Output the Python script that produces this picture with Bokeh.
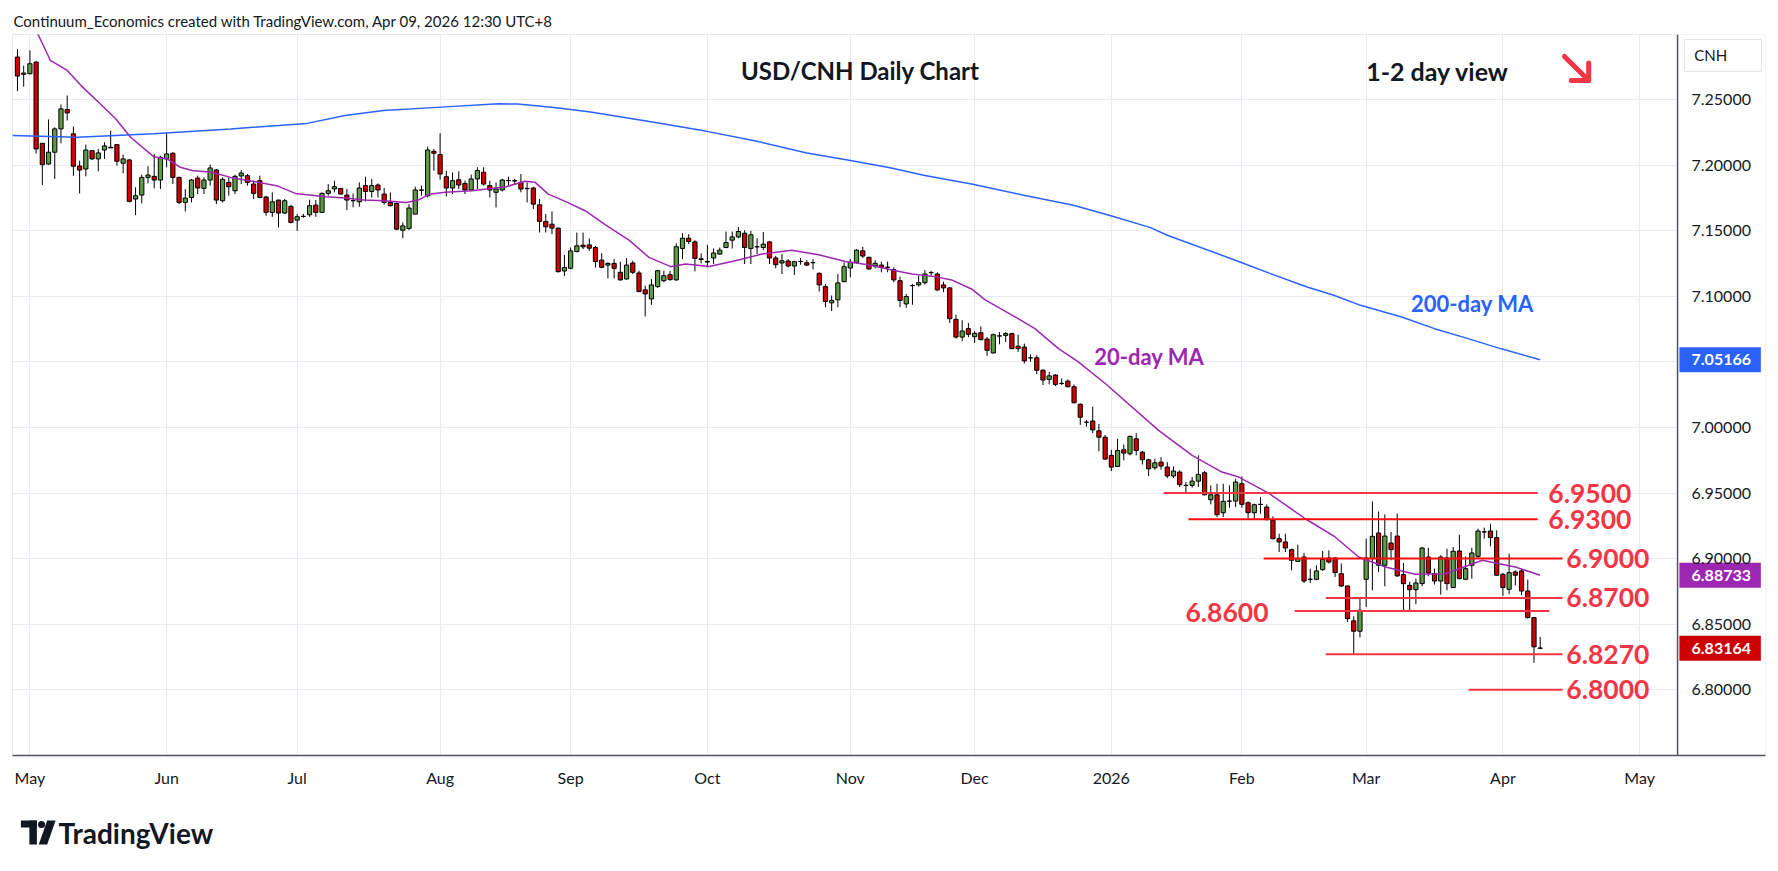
import pandas as pd
from bokeh.plotting import figure
from bokeh.models import Range1d, FixedTicker, NumeralTickFormatter, Span
from bokeh.layouts import column
from bokeh.embed import file_html
from bokeh.resources import INLINE
from bokeh.core.properties import value

FONT = "Lato"

# ---------------- data ----------------
opens = [
    7.2826, 7.2694, 7.2699, 7.2788, 7.2168, 7.2010, 7.2100, 7.2278, 7.2426, 7.2240,
    7.1995, 7.1972, 7.2112, 7.2049, 7.2117, 7.2138, 7.2158, 7.2016, 7.2041, 7.1743,
    7.1773, 7.1908, 7.1916, 7.1888, 7.2049, 7.2092, 7.1908, 7.1717, 7.1755, 7.1903,
    7.1824, 7.1888, 7.1965, 7.1730, 7.1870, 7.1806, 7.1919, 7.1921, 7.1857, 7.1883,
    7.1758, 7.1641, 7.1735, 7.1636, 7.1687, 7.1582, 7.1610, 7.1623, 7.1697, 7.1641,
    7.1786, 7.1820, 7.1824, 7.1773, 7.1730, 7.1722, 7.1845, 7.1801, 7.1850, 7.1781,
    7.1717, 7.1709, 7.1505, 7.1518, 7.1628, 7.1812, 7.1768, 7.2107, 7.2082, 7.1913,
    7.1827, 7.1890, 7.1862, 7.1812, 7.1896, 7.1947, 7.1845, 7.1794, 7.1812, 7.1883,
    7.1883, 7.1870, 7.1824, 7.1827, 7.1699, 7.1572, 7.1551, 7.1521, 7.1194, 7.1215,
    7.1342, 7.1391, 7.1393, 7.1373,
    7.1277, 7.1239, 7.1252, 7.1184, 7.1133, 7.1255, 7.1179, 7.1050, 7.0981, 7.1075,
    7.1120, 7.1166, 7.1126, 7.1366, 7.1444, 7.1416, 7.1287, 7.1267, 7.1293, 7.1323,
    7.1373, 7.1429, 7.1454, 7.1482, 7.1366, 7.1379, 7.1373, 7.1416, 7.1293, 7.1255,
    7.1270, 7.1232, 7.1267, 7.1257, 7.1258, 7.1176, 7.1075, 7.0951, 7.0974, 7.1113,
    7.1217, 7.1260, 7.1348, 7.1298, 7.1232, 7.1239, 7.1223, 7.1204, 7.1120, 7.0943,
    7.1083, 7.1088, 7.1105, 7.1182, 7.1171, 7.1088, 7.1065, 7.0825, 7.0690, 7.0754,
    7.0693, 7.0723, 7.0675, 7.0569, 7.0699, 7.0703, 7.0716, 7.0620, 7.0614, 7.0532,
    7.0532, 7.0437, 7.0367, 7.0400, 7.0337, 7.0354, 7.0311, 7.0177, 7.0041, 7.0050,
    6.9975, 6.9926,
    6.9787, 6.9703, 6.9830, 6.9800, 6.9914, 6.9812, 6.9754, 6.9693, 6.9736, 6.9698,
    6.9630, 6.9660, 6.9559, 6.9558, 6.9591, 6.9655, 6.9449, 6.9487, 6.9350, 6.9439,
    6.9439, 6.9571, 6.9426, 6.9350, 6.9414, 6.9393, 6.9292, 6.9152, 6.9127, 6.9068,
    6.8979, 6.9012, 6.8843, 6.8842, 6.8916, 6.9005, 6.9005, 6.8885, 6.8791, 6.8525,
    6.8446, 6.8842, 6.9000, 6.9195, 6.8949, 6.9119, 6.9172, 6.8878, 6.8796, 6.8763,
    6.8809, 6.9012, 6.8885, 6.8829, 6.9005, 6.8779, 6.9058, 6.8842, 6.8949, 6.9017,
    6.9204, 6.9210, 6.9160, 6.8880, 6.8766, 6.8898, 6.8906, 6.8753, 6.8550, 6.8318,
]
highs = [
    7.2887, 7.2760, 7.2877, 7.2793, 7.2170, 7.2350, 7.2290, 7.2464, 7.2533, 7.2296,
    7.2036, 7.2158, 7.2117, 7.2125, 7.2176, 7.2265, 7.2163, 7.2082, 7.2049, 7.1832,
    7.1929, 7.1993, 7.2087, 7.2074, 7.2245, 7.2100, 7.1913, 7.1819, 7.1896, 7.1921,
    7.1908, 7.2006, 7.1972, 7.1908, 7.1908, 7.1929, 7.1964, 7.1934, 7.1883, 7.1921,
    7.1768, 7.1793, 7.1738, 7.1743, 7.1699, 7.1628, 7.1630, 7.1738, 7.1735, 7.1794,
    7.1857, 7.1883, 7.1827, 7.1819, 7.1786, 7.1870, 7.1913, 7.1896, 7.1862, 7.1827,
    7.1793, 7.1715, 7.1564, 7.1704, 7.1837, 7.1845, 7.2143, 7.2125, 7.2245, 7.1959,
    7.1946, 7.1954, 7.1883, 7.1929, 7.1985, 7.1985, 7.1883, 7.1870, 7.1896, 7.1913,
    7.1896, 7.1934, 7.1870, 7.1837, 7.1743, 7.1628, 7.1648, 7.1526, 7.1317, 7.1373,
    7.1487, 7.1487, 7.1442, 7.1386,
    7.1330, 7.1260, 7.1285, 7.1265, 7.1293, 7.1272, 7.1196, 7.1083, 7.1133, 7.1204,
    7.1196, 7.1196, 7.1404, 7.1482, 7.1475, 7.1429, 7.1328, 7.1394, 7.1366, 7.1373,
    7.1495, 7.1495, 7.1530, 7.1505, 7.1500, 7.1444, 7.1492, 7.1424, 7.1310, 7.1323,
    7.1285, 7.1272, 7.1293, 7.1277, 7.1285, 7.1184, 7.1095, 7.1007, 7.1171, 7.1260,
    7.1285, 7.1361, 7.1379, 7.1303, 7.1277, 7.1265, 7.1265, 7.1222, 7.1151, 7.1019,
    7.1095, 7.1158, 7.1201, 7.1196, 7.1184, 7.1113, 7.1070, 7.0860, 7.0817, 7.0797,
    7.0736, 7.0771, 7.0690, 7.0716, 7.0728, 7.0728, 7.0723, 7.0708, 7.0640, 7.0559,
    7.0551, 7.0445, 7.0425, 7.0407, 7.0374, 7.0367, 7.0329, 7.0184, 7.0058, 7.0159,
    7.0028, 6.9944,
    6.9830, 6.9914, 6.9871, 6.9940, 6.9957, 6.9820, 6.9762, 6.9762, 6.9774, 6.9736,
    6.9703, 6.9673, 6.9584, 6.9622, 6.9787, 6.9668, 6.9558, 6.9571, 6.9571, 6.9558,
    6.9609, 6.9627, 6.9437, 6.9419, 6.9470, 6.9414, 6.9322, 6.9190, 6.9190, 6.9076,
    6.9106, 6.9043, 6.8923, 6.8949, 6.9058, 6.9063, 6.9012, 6.8962, 6.8796, 6.8560,
    6.8695, 6.9152, 6.9436, 6.9360, 6.9337, 6.9203, 6.9343, 6.8967, 6.8822, 6.8847,
    6.9089, 6.9083, 6.8923, 6.9025, 6.9076, 6.9089, 6.9182, 6.9017, 6.9083, 6.9228,
    6.9236, 6.9266, 6.9216, 6.8890, 6.9038, 6.8911, 6.8923, 6.8840, 6.8555, 6.8403,
]
lows = [
    7.2566, 7.2600, 7.2694, 7.2090, 7.1850, 7.2005, 7.1896, 7.2168, 7.2342, 7.1920,
    7.1786, 7.1916, 7.2041, 7.1954, 7.2049, 7.2132, 7.1998, 7.1939, 7.1717, 7.1620,
    7.1710, 7.1862, 7.1824, 7.1819, 7.1985, 7.1857, 7.1704, 7.1648, 7.1717, 7.1781,
    7.1781, 7.1845, 7.1704, 7.1717, 7.1768, 7.1781, 7.1857, 7.1845, 7.1743, 7.1750,
    7.1615, 7.1607, 7.1526, 7.1628, 7.1557, 7.1500, 7.1600, 7.1607, 7.1607, 7.1636,
    7.1768, 7.1794, 7.1776, 7.1658, 7.1680, 7.1684, 7.1725, 7.1755, 7.1755, 7.1700,
    7.1687, 7.1505, 7.1444, 7.1505, 7.1628, 7.1768, 7.1755, 7.1959, 7.1891, 7.1763,
    7.1781, 7.1819, 7.1781, 7.1806, 7.1819, 7.1845, 7.1755, 7.1679, 7.1801, 7.1845,
    7.1857, 7.1794, 7.1717, 7.1666, 7.1488, 7.1488, 7.1475, 7.1182, 7.1156, 7.1207,
    7.1337, 7.1360, 7.1347, 7.1220,
    7.1214, 7.1138, 7.1138, 7.1120, 7.1128, 7.1171, 7.1032, 7.0847, 7.0936, 7.1065,
    7.1108, 7.1120, 7.1120, 7.1285, 7.1399, 7.1191, 7.1252, 7.1222, 7.1247, 7.1318,
    7.1368, 7.1366, 7.1444, 7.1247, 7.1247, 7.1323, 7.1353, 7.1247, 7.1214, 7.1171,
    7.1222, 7.1164, 7.1242, 7.1232, 7.1206, 7.1037, 7.0918, 7.0888, 7.0918, 7.1108,
    7.1146, 7.1255, 7.1293, 7.1204, 7.1214, 7.1184, 7.1184, 7.1108, 7.0918, 7.0913,
    7.0936, 7.1075, 7.1090, 7.1158, 7.1040, 7.1032, 7.0797, 7.0678, 7.0660, 7.0690,
    7.0645, 7.0665, 7.0546, 7.0564, 7.0635, 7.0652, 7.0597, 7.0577, 7.0488, 7.0501,
    7.0407, 7.0324, 7.0329, 7.0316, 7.0324, 7.0306, 7.0184, 7.0020, 7.0007, 6.9957,
    6.9818, 6.9754,
    6.9668, 6.9698, 6.9749, 6.9787, 6.9787, 6.9718, 6.9630, 6.9678, 6.9678, 6.9614,
    6.9614, 6.9546, 6.9500, 6.9541, 6.9546, 6.9482, 6.9414, 6.9317, 6.9317, 6.9388,
    6.9393, 6.9388, 6.9304, 6.9297, 6.9343, 6.9292, 6.9147, 6.9050, 6.9050, 6.8911,
    6.8974, 6.8814, 6.8814, 6.8835, 6.8906, 6.8962, 6.8860, 6.8784, 6.8517, 6.8276,
    6.8398, 6.8631, 6.8758, 6.8898, 6.8789, 6.8987, 6.8860, 6.8606, 6.8606, 6.8652,
    6.8789, 6.8865, 6.8802, 6.8725, 6.8758, 6.8776, 6.8842, 6.8840, 6.8847, 6.9005,
    6.9152, 6.9094, 6.8868, 6.8715, 6.8728, 6.8796, 6.8720, 6.8542, 6.8205, 6.8309,
]
closes = [
    7.2681, 7.2704, 7.2775, 7.2125, 7.2005, 7.2100, 7.2278, 7.2431, 7.2400, 7.1993,
    7.1964, 7.2117, 7.2049, 7.2095, 7.2148, 7.2133, 7.2031, 7.2049, 7.1725, 7.1768,
    7.1908, 7.1926, 7.1888, 7.2061, 7.2087, 7.1908, 7.1717, 7.1750, 7.1888, 7.1827,
    7.1888, 7.1980, 7.1735, 7.1893, 7.1837, 7.1916, 7.1941, 7.1870, 7.1786, 7.1755,
    7.1641, 7.1722, 7.1636, 7.1730, 7.1564, 7.1608, 7.1611, 7.1692, 7.1641, 7.1786,
    7.1806, 7.1837, 7.1781, 7.1735, 7.1731, 7.1827, 7.1801, 7.1845, 7.1812, 7.1717,
    7.1692, 7.1513, 7.1538, 7.1674, 7.1812, 7.1810, 7.2117, 7.2092, 7.1934, 7.1827,
    7.1883, 7.1850, 7.1812, 7.1896, 7.1960, 7.1857, 7.1812, 7.1820, 7.1888, 7.1884,
    7.1880, 7.1819, 7.1822, 7.1704, 7.1572, 7.1531, 7.1521, 7.1189, 7.1220, 7.1347,
    7.1386, 7.1378, 7.1368, 7.1266,
    7.1222, 7.1252, 7.1214, 7.1126, 7.1239, 7.1184, 7.1037, 7.1019, 7.1088, 7.1196,
    7.1158, 7.1128, 7.1379, 7.1444, 7.1419, 7.1290, 7.1282, 7.1262, 7.1331, 7.1353,
    7.1411, 7.1454, 7.1495, 7.1373, 7.1470, 7.1378, 7.1399, 7.1293, 7.1242, 7.1272,
    7.1232, 7.1265, 7.1266, 7.1239, 7.1257, 7.1088, 7.0961, 7.0969, 7.1103, 7.1227,
    7.1260, 7.1353, 7.1308, 7.1209, 7.1252, 7.1222, 7.1222, 7.1126, 7.0969, 7.0999,
    7.1082, 7.1105, 7.1171, 7.1181, 7.1050, 7.1065, 7.0830, 7.0690, 7.0736, 7.0711,
    7.0718, 7.0670, 7.0589, 7.0708, 7.0698, 7.0716, 7.0602, 7.0602, 7.0508, 7.0531,
    7.0437, 7.0362, 7.0394, 7.0329, 7.0336, 7.0311, 7.0189, 7.0078, 7.0040, 6.9982,
    6.9926, 6.9759,
    6.9698, 6.9825, 6.9805, 6.9932, 6.9825, 6.9754, 6.9685, 6.9731, 6.9706, 6.9630,
    6.9668, 6.9564, 6.9558, 6.9591, 6.9642, 6.9487, 6.9487, 6.9335, 6.9437, 6.9438,
    6.9584, 6.9414, 6.9350, 6.9411, 6.9413, 6.9297, 6.9152, 6.9127, 6.9081, 6.8987,
    6.9000, 6.8829, 6.8842, 6.8906, 6.8995, 6.8974, 6.8893, 6.8791, 6.8542, 6.8446,
    6.8606, 6.9005, 6.9170, 6.8949, 6.9172, 6.9068, 6.8868, 6.8809, 6.8763, 6.8814,
    6.9081, 6.8890, 6.8829, 6.9012, 6.8809, 6.9056, 6.8847, 6.8923, 6.9043, 6.9210,
    6.9203, 6.9160, 6.8873, 6.8779, 6.8893, 6.8873, 6.8753, 6.8550, 6.8327, 6.8316,
]

# moving averages, sampled along the drawn curves (bar index, value)
ma20_idx = [2.5, 3.4, 5.3, 8.0, 10.2, 13.3, 15.8, 18.2, 21.9, 24.1, 26.2, 28.1, 31.2, 34.3,
            37.3, 41.7, 44.7, 49.7, 52.7, 55.8, 58.9, 62.6, 64.5, 66.3, 68.8, 73.1, 76.2,
            78.6, 81.7, 83.3, 85.4, 88.5, 91.4, 94.6, 98.4, 101.6, 105.1, 107.5, 111.3,
            115.5, 119.8, 124.6, 128.9, 133.2, 136.9, 140.7, 143.9, 147.6, 150.3, 153.5,
            155.7, 161.0, 163.7, 167.5, 170.7, 175.3, 183.6, 189.0, 193.8, 196.5, 201.3,
            207.2, 212.0, 215.8, 220.1, 224.9, 229.8, 233.5, 235.7, 237.8, 241.0, 245.0]
ma20_val = [7.305, 7.299, 7.280, 7.2724, 7.261, 7.247, 7.2355, 7.2214, 7.2066, 7.2049, 7.1985,
            7.1960, 7.1947, 7.1908, 7.1883, 7.1845, 7.1786, 7.1760, 7.1750, 7.1735, 7.1730,
            7.1717, 7.1735, 7.1780, 7.1794, 7.1806, 7.1824, 7.1837, 7.1878, 7.1870, 7.1780,
            7.1717, 7.1652, 7.1546, 7.1429, 7.1298, 7.1227, 7.1247, 7.1229, 7.1272, 7.1323,
            7.1353, 7.1318, 7.1267, 7.1242, 7.1201, 7.1171, 7.1151, 7.1126, 7.1057, 7.0974,
            7.0830, 7.0754, 7.0602, 7.0501, 7.0324, 6.9978, 6.9787, 6.9660, 6.9622, 6.9500,
            6.9304, 6.9165, 6.9012, 6.8936, 6.8880, 6.8885, 6.8949, 6.8987, 6.8967, 6.8936,
            6.88733]
ma200_idx = [-0.8, 9.6, 21.9, 34.3, 46.6, 52.7, 58.9, 68.2, 77.4, 80.5, 86.7, 92.2, 102.9,
             110.7, 119.0, 127.0, 133.8, 140.4, 145.8, 153.7, 161.9, 169.9, 176.2, 182.3,
             185.0, 196.7, 201.6, 207.5, 211.8, 216.1, 222.7, 228.0, 233.4, 238.6, 245.0]
ma200_val = [7.2227, 7.2214, 7.2240, 7.2278, 7.2320, 7.2380, 7.2418, 7.2444, 7.2469, 7.2467,
             7.2439, 7.2406, 7.2325, 7.2261, 7.2183, 7.2094, 7.2038, 7.1982, 7.1924, 7.1855,
             7.1772, 7.1695, 7.1612, 7.1525, 7.1467, 7.1263, 7.1174, 7.1072, 7.1009, 7.0932,
             7.0843, 7.0754, 7.0678, 7.0602, 7.05166]

# horizontal support / resistance levels drawn on the chart
levels = [6.95, 6.93, 6.90, 6.87, 6.86, 6.827, 6.80]
level_text = ["6.9500", "6.9300", "6.9000", "6.8700", "6.8600", "6.8270", "6.8000"]
level_from = [184.4, 188.4, 200.5, 210.5, 205.5, 210.5, 233.5]
level_to = [244.6, 244.6, 248.6, 248.6, 246.5, 248.6, 248.6]
level_color = ["#F23645", "#FF0A0A", "#FF0A0A", "#F23645", "#F23645", "#F23645", "#F23645"]
level_label_x = [246.3, 246.3, 249.2, 249.2, 201.3, 249.2, 249.2]
level_label_align = ["left", "left", "left", "left", "right", "left", "left"]

price_ticks = [6.80, 6.85, 6.90, 6.95, 7.00, 7.05, 7.10, 7.15, 7.20, 7.25]
hidden_tick = 7.05       # covered by the 200-day MA price badge
holidays = ["2025-12-25", "2026-01-01"]
last_values = [7.05166, 6.88733, 6.83164]
last_texts = ["7.05166", "6.88733", "6.83164"]
last_colors = ["#2962FF", "#9C27B0", "#CC0000"]

# ---------------- dates / month ticks ----------------
dates = pd.bdate_range("2025-04-29", "2026-04-09")
dates = dates[~dates.isin(pd.to_datetime(holidays))]
future = pd.bdate_range("2026-04-10", "2026-06-30")
all_dates = dates.append(future)
idx = list(range(len(opens)))

tick_pos, tick_lab = [], {}
prev = None
for i, d in enumerate(all_dates):
    key = (d.year, d.month)
    if prev is not None and key != prev and i < 266:
        tick_pos.append(i)
        tick_lab[i] = str(d.year) if d.month == 1 else d.strftime("%b")
    prev = key

# ---------------- layout constants (bar-index / price units) ----------------
X_START, X_END = -0.8, 281.25          # frame spans plot area + price scale
SCALE_X = 267.1                        # price-scale separator
BADGE_L, BADGE_R, BADGE_TXT = 267.4, 280.5, 269.35
BADGE_H = 0.0191

p = figure(width=1778, height=795, output_backend="svg", toolbar_location=None,
           x_range=Range1d(X_START, X_END), y_range=Range1d(6.7498, 7.2998),
           y_axis_location="right", min_border_left=12, min_border_right=13,
           min_border_top=34, min_border_bottom=40,
           background_fill_color="white", border_fill_color="white")
p.outline_line_color = "#E6E9F0"

p.title.text = "Continuum_Economics created with TradingView.com, Apr 09, 2026 12:30 UTC+8"
p.title.text_font = FONT
p.title.text_font_size = "15px"
p.title.text_font_style = "normal"
p.title.text_color = "#131722"
p.title.align = "left"
p.title.offset = 1
p.title.standoff = 9

p.yaxis.ticker = FixedTicker(ticks=price_ticks)
p.yaxis.formatter = NumeralTickFormatter(format="0.00000")
p.yaxis.major_label_overrides = {hidden_tick: ""}
p.xaxis.ticker = FixedTicker(ticks=tick_pos)
p.xaxis.major_label_overrides = tick_lab
for ax in (p.xaxis, p.yaxis):
    ax.major_tick_out = 0
    ax.major_tick_in = 0
    ax.minor_tick_out = 0
    ax.minor_tick_in = 0
    ax.axis_line_color = "#50535E"
    ax.axis_line_width = 1.5
    ax.major_label_text_font = FONT
    ax.major_label_text_font_size = "16px"
    ax.major_label_text_color = "#131722"
    ax.major_label_standoff = 12
p.yaxis.axis_line_color = None
p.yaxis.major_label_standoff = -74
p.xgrid.ticker = FixedTicker(ticks=tick_pos)
p.ygrid.ticker = FixedTicker(ticks=price_ticks)
p.grid.grid_line_color = "#E8ECF2"
p.grid.grid_line_width = 1

# price-scale panel background (hides grid under the scale)
p.quad(left=[SCALE_X], right=[X_END + 1], bottom=[6.70], top=[7.35],
       fill_color="white", line_color=None)
p.add_layout(Span(location=SCALE_X, dimension="height", line_color="#50535E",
                  line_width=1.5))

# candles
tops = [max(o, c) for o, c in zip(opens, closes)]
bots = [min(o, c) for o, c in zip(opens, closes)]
cols = ["#5E9B46" if c >= o else "#CC0000" for o, c in zip(opens, closes)]
p.segment(x0=idx, y0=lows, x1=idx, y1=highs, line_color="black", line_width=1)
p.vbar(x=idx, width=0.68, top=tops, bottom=bots, fill_color=cols,
       line_color="black", line_width=1)

# moving averages
p.line(ma20_idx, ma20_val, line_color="#9C27B0", line_width=1.5)
p.line(ma200_idx, ma200_val, line_color="#2962FF", line_width=1.5)

# levels
p.segment(x0=level_from, y0=levels, x1=level_to, y1=levels, line_color=level_color,
          line_width=2)
for lx, ly, lt, la in zip(level_label_x, levels, level_text, level_label_align):
    p.text(x=[lx], y=[ly - (0.0012 if la == "right" else 0.0)], text=[lt],
           text_font=value(FONT), text_font_size="26.5px", text_font_style="bold",
           text_color="#F23645", text_align=la, text_baseline="middle")

# chart texts
p.text(x=[135.6], y=[7.2723], text=["USD/CNH Daily Chart"], text_font=value(FONT),
       text_font_size="24px", text_font_style="bold", text_color="#131722",
       text_align="center", text_baseline="middle")
p.text(x=[228.5], y=[7.2723], text=["1-2 day view"], text_font=value(FONT),
       text_font_size="25px", text_font_style="bold", text_color="#131722",
       text_align="center", text_baseline="middle")
p.text(x=[182.1], y=[7.0542], text=["20-day MA"], text_font=value(FONT),
       text_font_size="22px", text_font_style="bold", text_color="#9C27B0",
       text_align="center", text_baseline="middle")
p.text(x=[234.1], y=[7.0946], text=["200-day MA"], text_font=value(FONT),
       text_font_size="22px", text_font_style="bold", text_color="#2962FF",
       text_align="center", text_baseline="middle")

# down arrow
p.multi_line(xs=[[248.9, 252.8], [250.0, 252.8, 252.8]],
             ys=[[7.2830, 7.2647], [7.2647, 7.2647, 7.2780]],
             line_color="#F23645", line_width=5, line_cap="round", line_join="round")

# price-scale badges (last values) and currency box
p.rect(x=[(BADGE_L + BADGE_R) / 2] * 3, y=last_values, width=BADGE_R - BADGE_L,
       height=BADGE_H, fill_color=last_colors, line_color=None)
p.text(x=[BADGE_TXT] * 3, y=last_values, text=last_texts, text_font=value(FONT),
       text_font_size="16px", text_font_style="bold", text_color="white",
       text_align="left", text_baseline="middle")
p.rect(x=[274.4], y=[7.2838], width=12.4, height=0.0244, fill_color="white",
       line_color="#E0E3EB", line_width=1)
p.text(x=[269.8], y=[7.2838], text=["CNH"], text_font=value(FONT), text_font_size="15px",
       text_color="#131722", text_align="left", text_baseline="middle")

# ---------------- footer logo ----------------
f = figure(width=400, height=68, output_backend="svg", toolbar_location=None,
           x_range=Range1d(0, 400), y_range=Range1d(68, 0),
           x_axis_location=None, y_axis_location=None,
           min_border=0, background_fill_color="white", border_fill_color="white")
f.grid.visible = False
f.outline_line_color = None
f.quad(left=[9, 18], right=[26, 26], top=[25, 25], bottom=[32, 49],
       fill_color="#131722", line_color=None)
f.circle(x=[31], y=[29], radius=3.8, fill_color="#131722", line_color=None)
f.patch(x=[37, 46, 37, 28], y=[25, 25, 49, 49], fill_color="#131722", line_color=None)
f.text(x=[49], y=[37], text=["TradingView"], text_font=value(FONT), text_font_size="28px",
       text_font_style="bold", text_color="#131722", text_baseline="middle")

layout = column(p, f)
open("out.html", "w").write(file_html(layout, INLINE))
